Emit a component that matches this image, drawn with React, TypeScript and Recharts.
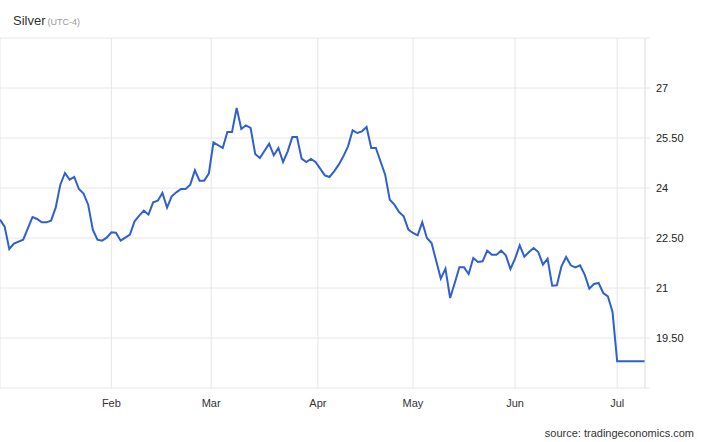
import {
  CartesianGrid,
  Line,
  LineChart,
  XAxis,
  YAxis,
} from "recharts";

// trading session number (from start of window) and closing price
const sessions = [
  0, 1, 2, 3, 5, 7, 8, 9, 10, 11, 12, 13, 14, 15, 16, 17, 18, 19, 20, 21, 22,
  23, 24, 25, 26, 27, 28, 29, 30, 31, 32, 33, 34, 35, 36, 37, 38, 39, 40, 41,
  42, 43, 44, 45, 46, 48, 49, 50, 51, 52, 53, 54, 55, 56, 58, 59, 60, 61, 62,
  63, 64, 65, 66, 67, 68, 69, 70, 71, 72, 73, 74, 75, 76, 77, 78, 79, 80, 81,
  83, 84, 85, 86, 87, 88, 89, 90, 91, 92, 93, 95, 96, 97, 98, 99, 100, 101,
  102, 103, 104, 105, 106, 107, 108, 109, 110, 111, 112, 113, 114, 115, 116,
  117, 118, 119, 120, 121, 122, 123, 124, 125, 126, 127, 128, 129, 130, 131,
  132, 133, 139,
];

const prices = [
  23.05, 22.84, 22.17, 22.33, 22.45, 23.13, 23.07, 22.97, 22.97, 23.02, 23.41,
  24.1, 24.45, 24.25, 24.33, 23.97, 23.83, 23.5, 22.75, 22.45, 22.42, 22.51,
  22.67, 22.66, 22.42, 22.51, 22.6, 23.0, 23.17, 23.32, 23.2, 23.57, 23.62,
  23.85, 23.41, 23.75, 23.87, 23.97, 23.97, 24.1, 24.53, 24.22, 24.22, 24.43,
  25.37, 25.2, 25.68, 25.68, 26.4, 25.77, 25.88, 25.8, 25.02, 24.9, 25.33,
  24.98, 25.2, 24.78, 25.1, 25.53, 25.53, 24.88, 24.78, 24.87, 24.78, 24.58,
  24.38, 24.33, 24.5, 24.7, 24.95, 25.25, 25.73, 25.65, 25.7, 25.83, 25.2,
  25.2, 24.4, 23.65, 23.5, 23.28, 23.15, 22.75, 22.65, 22.58, 22.97, 22.5,
  22.35, 21.28, 21.58, 20.7, 21.15, 21.62, 21.62, 21.42, 21.9, 21.78, 21.8,
  22.12, 22.0, 22.0, 22.12, 21.98, 21.57, 21.88, 22.28, 21.94, 22.08, 22.2,
  22.08, 21.7, 21.88, 21.07, 21.08, 21.65, 21.93, 21.68, 21.62, 21.68, 21.4,
  20.98, 21.12, 21.15, 20.85, 20.75, 20.28, 18.8, 18.8,
];

const monthStarts = [24, 45.5, 68.5, 89, 111, 133];
const monthLabels = ["Feb", "Mar", "Apr", "May", "Jun", "Jul"];

const priceTicks = [18, 19.5, 21, 22.5, 24, 25.5, 27, 28.5];
const priceLabels = ["", "19.50", "21", "22.50", "24", "25.50", "27", ""];

const data = sessions.map((s, i) => ({ session: s, price: prices[i] }));

const FONT = "'Liberation Sans', Arial, sans-serif";

export default function App() {
  return (
    <div
      style={{
        position: "absolute",
        left: 0,
        top: 0,
        width: 704,
        height: 442,
        background: "#fff",
        fontFamily: FONT,
        overflow: "hidden",
      }}
    >
      <div
        style={{
          position: "absolute",
          left: 13,
          top: 13,
          fontSize: 13,
          color: "#333",
          whiteSpace: "nowrap",
        }}
      >
        Silver
        <span style={{ fontSize: 9, color: "#999", marginLeft: 2 }}>(UTC-4)</span>
      </div>

      <LineChart
        width={704}
        height={442}
        data={data}
        margin={{ top: 38, right: 4, bottom: 24, left: 0 }}
      >
        <CartesianGrid stroke="#e6e6e6" strokeWidth={1} />
        <XAxis
          dataKey="session"
          type="number"
          domain={[0, 139]}
          ticks={monthStarts}
          tickFormatter={(v: number) => monthLabels[monthStarts.indexOf(v)] ?? ""}
          axisLine={false}
          tickLine={false}
          tickSize={6}
          tickMargin={5}
          height={30}
          tick={{ fill: "#333", fontSize: 11, fontFamily: FONT }}
          interval={0}
        />
        <YAxis
          orientation="right"
          type="number"
          domain={[18, 28.5]}
          ticks={priceTicks}
          tickFormatter={(v: number) => priceLabels[priceTicks.indexOf(v)] ?? ""}
          axisLine={{ stroke: "#e6e6e6" }}
          tickLine={{ stroke: "#e6e6e6" }}
          tickSize={5}
          tickMargin={6}
          width={55}
          tick={{ fill: "#222", fontSize: 11, fontFamily: FONT, textAnchor: "start" }}
          interval={0}
        />
        <Line
          type="linear"
          dataKey="price"
          stroke="#2f5fd0"
          strokeWidth={2}
          dot={false}
          isAnimationActive={false}
        />
      </LineChart>

      <div
        style={{
          position: "absolute",
          right: 10,
          top: 427,
          fontSize: 11,
          color: "#333",
          whiteSpace: "nowrap",
        }}
      >
        source: tradingeconomics.com
      </div>
    </div>
  );
}
